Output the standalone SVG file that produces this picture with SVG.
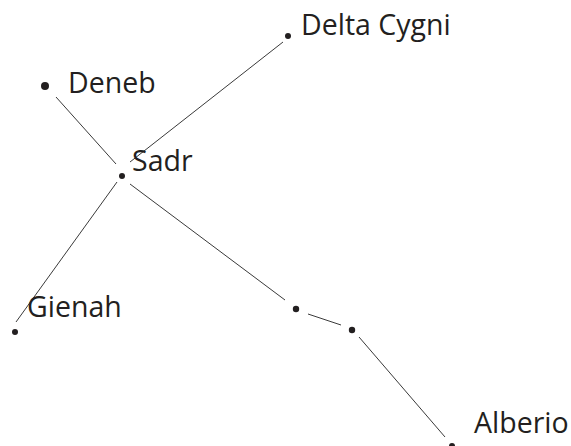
<svg xmlns="http://www.w3.org/2000/svg" width="571" height="446" viewBox="0 0 571 446">
  <style>
    .star { fill: #231f20; }
    .label { font-family: "Open Sans", "Liberation Sans", sans-serif; font-size: 28.5px; fill: #231f20; }
    .link { stroke: #3a3a3a; stroke-width: 1; fill: none; }
  </style>
  <rect width="571" height="446" fill="#ffffff"/>
  <g id="connectors">
    <line class="link" x1="56" y1="97" x2="116" y2="164"/>
    <line class="link" x1="130" y1="162" x2="283" y2="42"/>
    <line class="link" x1="117" y1="182" x2="16" y2="322"/>
    <line class="link" x1="130" y1="184" x2="285" y2="300"/>
    <line class="link" x1="308" y1="314" x2="341" y2="325"/>
    <line class="link" x1="359" y1="337" x2="445" y2="437"/>
  </g>
  <g id="deneb">
    <circle class="star" cx="45" cy="86" r="4"/>
    <text class="label" x="68" y="93">Deneb</text>
  </g>
  <g id="delta-cygni">
    <circle class="star" cx="288" cy="36" r="3"/>
    <text class="label" x="301" y="35">Delta Cygni</text>
  </g>
  <g id="sadr">
    <circle class="star" cx="122" cy="176" r="3"/>
    <text class="label" x="132" y="171">Sadr</text>
  </g>
  <g id="gienah">
    <circle class="star" cx="15" cy="332" r="3"/>
    <text class="label" x="27" y="317">Gienah</text>
  </g>
  <g id="star-a">
    <circle class="star" cx="296" cy="309" r="3.2"/>
  </g>
  <g id="star-b">
    <circle class="star" cx="352" cy="330" r="3.2"/>
  </g>
  <g id="alberio">
    <circle class="star" cx="452" cy="446" r="3"/>
    <text class="label" x="474" y="433">Alberio</text>
  </g>
</svg>
